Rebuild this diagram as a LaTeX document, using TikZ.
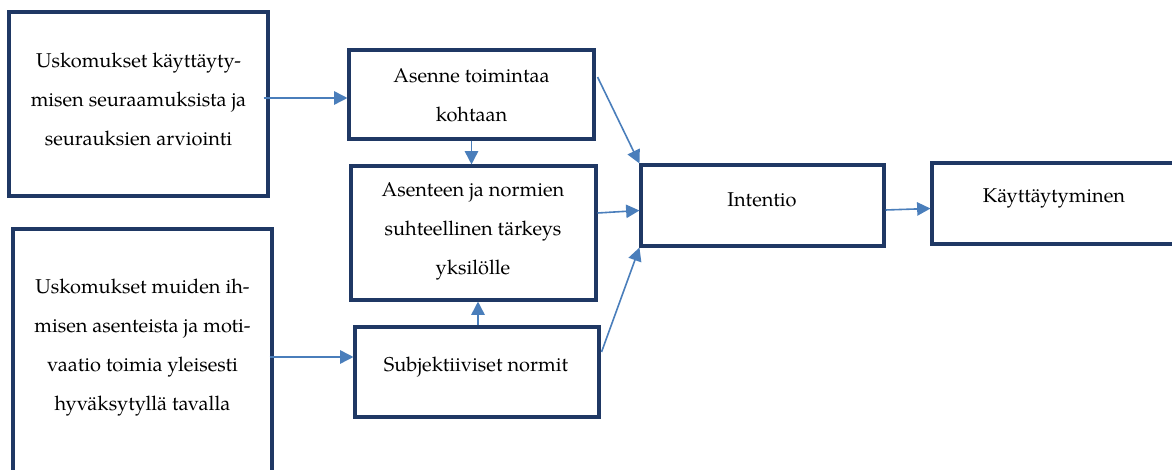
\documentclass[tikz,border=0pt]{standalone}
\usepackage{fontspec}
\setmainfont{TeX Gyre Pagella}
\usetikzlibrary{arrows.meta,calc}
\definecolor{boxline}{HTML}{1F3864}
\definecolor{arrowblue}{HTML}{4A7EBB}
\begin{document}
\begin{tikzpicture}[x=0.75pt,y=-0.75pt,
  box/.style={draw=boxline,line width=2.3pt,rectangle,inner sep=0pt,fill=none},
  txt/.style={align=center,font=\fontsize{15}{29.25}\selectfont,inner sep=0pt},
  arr/.style={draw=arrowblue,line width=1.2pt,-{Triangle[length=10pt,width=10pt]}}]
\useasboundingbox (0,0) rectangle (1172,470);
\clip (0,0) rectangle (1172,470);
% boxes
\node[box,minimum width=194.25pt,minimum height=138pt] (A) at (138.5,104) {};
\node[box,minimum width=183.75pt,minimum height=66.75pt] (B) at (471.5,94.5) {};
\node[box,minimum width=183.75pt,minimum height=100.5pt] (C) at (473.5,233) {};
\node[box,minimum width=183pt,minimum height=67.5pt] (D) at (477,372) {};
\node[box,minimum width=194.25pt,minimum height=210.75pt] (E) at (142.5,369.5) {};
\node[box,minimum width=182.25pt,minimum height=60.75pt] (F) at (762.5,205.5) {};
\node[box,minimum width=183pt,minimum height=60.75pt] (G) at (1054,203.5) {};
% texts
\node[txt] (tA) at ($(A.center)+(0,-5)$) {Uskomukset käyttäyty-\\misen seuraamuksista ja\\seurauksien arviointi};
\node[txt] (tB) at ($(B.center)+(0,0.5)$) {Asenne toimintaa\\kohtaan};
\node[txt] (tC) at ($(C.center)+(-0.5,-2)$) {Asenteen ja normien\\suhteellinen tärkeys\\yksilölle};
\node[txt] (tD) at ($(D.center)+(-1,-5)$) {Subjektiiviset normit};
\node[txt] (tE) at ($(E.north)+(0,120)$) {Uskomukset muiden ih-\\misen asenteista ja moti-\\vaatio toimia yleisesti\\hyväksytyllä tavalla};
\node[txt] (tF) at ($(F.center)+(-0.5,-5.5)$) {Intentio};
\node[txt] (tG) at ($(G.center)+(0,-5.5)$) {Käyttäytyminen};
% connectors
\coordinate (a1) at ($(A.east)+(-6,-6)$);
\draw[arr] (a1) -- (B.west |- a1);
\coordinate (e1) at ($(E.east |- D.west)+(-4,-15)$);
\draw[arr] (e1) -- (D.west |- e1);
\draw[arr] (B.south) -- (B.south |- C.north);
\coordinate (d1) at ($(D.north)+(1,0)$);
\draw[arr] (d1) -- (d1 |- C.south);
\draw[arr] ($(B.east)+(2,-17.5)$) -- (F.north west);
\draw[arr] ($(C.east)+(0,-20)$) -- ($(F.west)+(0,5)$);
\draw[arr] ($(D.east)+(1,-20)$) -- (F.south west);
\draw[arr] ($(F.east)+(0,4.5)$) -- ($(G.west)+(0,5)$);
\end{tikzpicture}
\end{document}
